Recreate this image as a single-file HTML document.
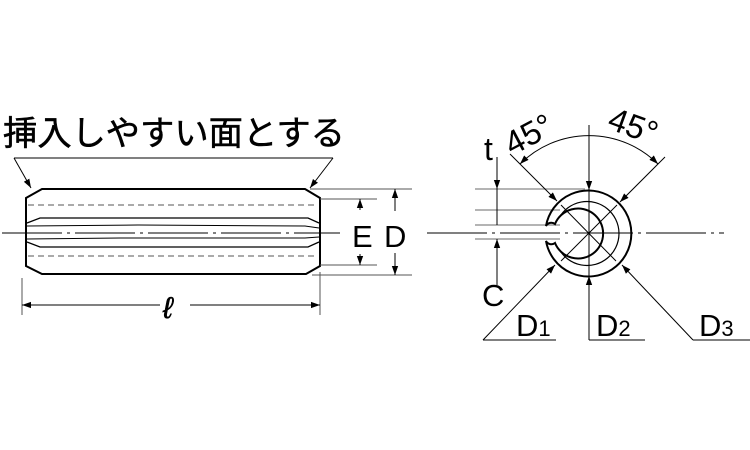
<!DOCTYPE html>
<html><head><meta charset="utf-8"><style>
html,body{margin:0;padding:0;background:#fff;width:750px;height:450px;overflow:hidden}
svg text{font-family:"Liberation Sans","Noto Sans CJK JP",sans-serif;fill:#000}
</style></head><body>
<svg width="750" height="450" viewBox="0 0 750 450" xmlns="http://www.w3.org/2000/svg">
<defs>
<marker id="a" viewBox="0 0 10 10" refX="10" refY="5" markerWidth="9" markerHeight="9" orient="auto-start-reverse" markerUnits="userSpaceOnUse"><path d="M0,1.5 L10,5 L0,8.5 z" fill="#000"/></marker>
</defs>
<g stroke="#000" fill="none">
<text x="3" y="145" font-size="34" stroke="#000" stroke-width="0.5" textLength="342" lengthAdjust="spacingAndGlyphs">挿入しやすい面とする</text>
<polyline points="14,158 333,158" stroke-width="1"/>
<line x1="14" y1="158" x2="31" y2="188" stroke-width="1" marker-end="url(#a)"/>
<line x1="333" y1="158" x2="310" y2="188" stroke-width="1" marker-end="url(#a)"/>
<path d="M42,189 L305,189 L320,198 L320,266 L306,274 L42,274 L26,266 L26,198 Z" stroke-width="2"/>
<line x1="28" y1="205" x2="318" y2="205" stroke="#777" stroke-width="1.3" stroke-dasharray="6,4"/>
<line x1="28" y1="256" x2="318" y2="256" stroke="#777" stroke-width="1.3" stroke-dasharray="6,4"/>
<path d="M27,223 L40,218 L308,218 L319,223" stroke-width="1.3"/>
<path d="M27,226 L138,225 L305,226 L319,228" stroke-width="1"/>
<path d="M27,239 L120,238 L305,238 L319,237" stroke-width="1"/>
<path d="M27,242 L40,247 L308,247 L319,242" stroke-width="1.3"/>
<line x1="2" y1="233" x2="340" y2="233" stroke-width="1" stroke-dasharray="60,5,3,5"/>
<line x1="310" y1="189" x2="412" y2="189" stroke="#555" stroke-width="1"/>
<line x1="320" y1="199" x2="377" y2="199" stroke="#555" stroke-width="1"/>
<line x1="320" y1="265" x2="377" y2="265" stroke="#555" stroke-width="1"/>
<line x1="312" y1="275" x2="412" y2="275" stroke="#555" stroke-width="1"/>
<line x1="360" y1="210" x2="360" y2="199" stroke-width="1" marker-end="url(#a)"/>
<line x1="360" y1="254" x2="360" y2="265" stroke-width="1" marker-end="url(#a)"/>
<line x1="395" y1="211" x2="395" y2="189" stroke-width="1" marker-end="url(#a)"/>
<line x1="395" y1="253" x2="395" y2="275" stroke-width="1" marker-end="url(#a)"/>
<line x1="22" y1="278" x2="22" y2="315" stroke="#555" stroke-width="1"/>
<line x1="320" y1="272" x2="320" y2="315" stroke="#555" stroke-width="1"/>
<line x1="160" y1="305" x2="22" y2="305" stroke-width="1" marker-end="url(#a)"/>
<line x1="190" y1="305" x2="320" y2="305" stroke-width="1" marker-end="url(#a)"/>
<text x="163" y="318" font-size="30" font-style="italic" stroke="#000" stroke-width="0.6">ℓ</text>
<text x="352" y="247" font-size="31" stroke="none">E</text>
<text x="384" y="247" font-size="31" stroke="none">D</text>

<line x1="427" y1="233" x2="724" y2="233" stroke-width="1" stroke-dasharray="60,5,3,5"/>
<line x1="589" y1="125" x2="589" y2="340" stroke-width="1"/>
<line x1="475" y1="189" x2="585" y2="189" stroke="#888" stroke-width="1.2"/>
<line x1="475" y1="210" x2="560" y2="210" stroke="#888" stroke-width="1.2"/>
<line x1="475" y1="225" x2="560" y2="225" stroke="#888" stroke-width="1.2"/>
<line x1="475" y1="239" x2="560" y2="239" stroke="#888" stroke-width="1.2"/>
<line x1="497" y1="157" x2="497" y2="189" stroke-width="1" marker-end="url(#a)"/>
<line x1="497" y1="189" x2="497" y2="225" stroke-width="1"/>
<line x1="497" y1="285" x2="497" y2="239" stroke-width="1" marker-end="url(#a)"/>
<text x="484" y="160" font-size="32" stroke="none">t</text>
<text x="482" y="306" font-size="31" stroke="none">C</text>
<path d="M520,164 A98,98 0 0 1 658,164" stroke-width="1" marker-start="url(#a)" marker-end="url(#a)"/>
<line x1="510" y1="154" x2="557" y2="201" stroke-width="1" marker-end="url(#a)"/>
<line x1="665" y1="157" x2="620" y2="202" stroke-width="1" marker-end="url(#a)"/>
<line x1="561" y1="205" x2="616" y2="261" stroke-width="1"/>
<line x1="617" y1="205" x2="561" y2="261" stroke-width="1"/>
<text transform="translate(512,156) rotate(-28)" font-size="33" stroke="none">45°</text>
<text transform="translate(606,128) rotate(20)" font-size="33" stroke="none">45°</text>
<path d="M546,226 A43,43 0 1 1 546,241 A6,6 0 0 0 555,243 A25,25 0 1 0 555,224 A6,6 0 0 0 546,226 Z" stroke-width="2"/>
<path d="M559,218 A32,32 0 1 1 559,249" stroke-width="1.2"/>
<line x1="483" y1="340" x2="555" y2="265" stroke-width="1" marker-end="url(#a)"/>
<line x1="483" y1="340" x2="556" y2="340" stroke-width="1"/>
<line x1="589" y1="300" x2="589" y2="276" stroke-width="1" marker-end="url(#a)"/>
<line x1="589" y1="170" x2="589" y2="190" stroke-width="1" marker-end="url(#a)"/>
<line x1="589" y1="340" x2="645" y2="340" stroke-width="1"/>
<line x1="693" y1="340" x2="622" y2="265" stroke-width="1" marker-end="url(#a)"/>
<line x1="693" y1="340" x2="750" y2="340" stroke-width="1"/>
<text x="516" y="336" font-size="31" stroke="none">D<tspan font-size="22">1</tspan></text>
<text x="596" y="336" font-size="31" stroke="none">D<tspan font-size="22">2</tspan></text>
<text x="699" y="336" font-size="31" stroke="none">D<tspan font-size="22">3</tspan></text>
</g>
</svg>
</body></html>
